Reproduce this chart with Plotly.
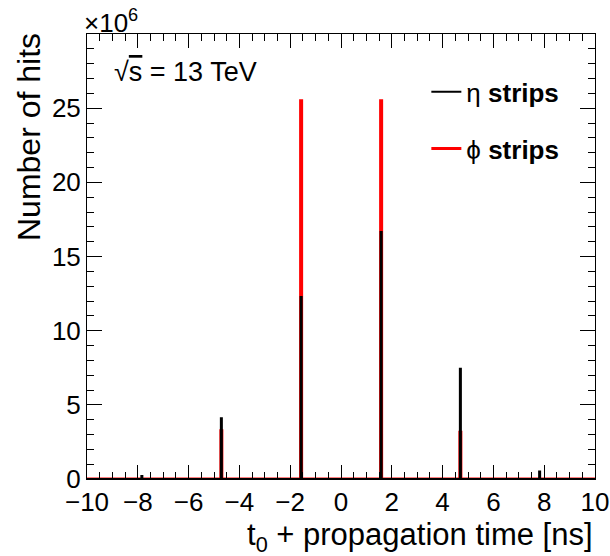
import plotly.graph_objects as go

# Data: bin centers (ns) and contents (x10^6 hits)
bin_centers = [-7.84, -4.71, -1.57, 1.58, 4.70, 7.82]
eta_hits = [0.2, 4.1, 12.27, 16.66, 7.43, 0.5]
phi_hits = [0.0, 3.26, 25.5, 25.5, 3.15, 0.0]
bin_width = 0.04
x_range = [-10, 10]


def step_outline(centers, values, width, lo, hi):
    xs, ys = [lo], [0]
    for c, v in zip(centers, values):
        xs += [c - width / 2, c - width / 2, c + width / 2, c + width / 2]
        ys += [0, v, v, 0]
    xs.append(hi)
    ys.append(0)
    return xs, ys


FONT = "Liberation Sans, Arial, Helvetica, sans-serif"

fig = go.Figure()
px_, py_ = step_outline(bin_centers, phi_hits, bin_width, *x_range)
ex_, ey_ = step_outline(bin_centers, eta_hits, bin_width, *x_range)

fig.add_trace(go.Scatter(x=px_, y=py_, mode="lines", line=dict(color="#ff0000", width=3),
                         name="ϕ <b>strips</b>", legendgroup="phi", legendrank=2))
fig.add_trace(go.Scatter(x=ex_, y=ey_, mode="lines", line=dict(color="black", width=2),
                         name="η <b>strips</b>", legendgroup="eta", legendrank=1))

fig.update_layout(
    width=610, height=556,
    margin=dict(l=87, r=15, t=34, b=77, autoexpand=False),
    paper_bgcolor="white", plot_bgcolor="white",
    font=dict(family=FONT, color="black"),
    showlegend=True,
    legend=dict(x=0.668, y=0.923, xanchor="left", yanchor="top",
                font=dict(size=26, family=FONT), itemwidth=30,
                tracegroupgap=20, bgcolor="rgba(0,0,0,0)", traceorder="grouped"),
    xaxis=dict(range=x_range, showgrid=False, zeroline=False, showline=True,
               automargin=False,
               linecolor="black", linewidth=1, mirror="allticks",
               ticks="inside", ticklen=14, tickcolor="black", tickwidth=1,
               dtick=2, tick0=-10, tickfont=dict(size=26, family=FONT),
               minor=dict(dtick=0.5, ticklen=7, ticks="inside", tickcolor="black")),
    yaxis=dict(range=[0, 30], showgrid=False, zeroline=False, showline=True,
               automargin=False,
               linecolor="black", linewidth=1, mirror="allticks",
               ticks="inside", ticklen=15, tickcolor="black", tickwidth=1,
               tickvals=[0, 5, 10, 15, 20, 25], tickfont=dict(size=26, family=FONT),
               minor=dict(dtick=1, ticklen=7, ticks="inside", tickcolor="black")),
    annotations=[
        dict(text="×10<sup>6</sup>", xref="paper", yref="paper", x=0, y=1.0,
             xanchor="left", yanchor="bottom", showarrow=False,
             font=dict(size=26, family=FONT), xshift=-5, yshift=-6),
        dict(text="√<span style='text-decoration:overline'>s</span> = 13 TeV",
             xref="paper", yref="paper", x=0.05, y=0.915,
             xanchor="left", yanchor="middle", showarrow=False,
             font=dict(size=27, family=FONT)),
        dict(text="t<sub>0</sub> + propagation time [ns]",
             xref="paper", yref="paper", x=1.0, y=0,
             xanchor="right", yanchor="middle", showarrow=False,
             font=dict(size=31, family=FONT), xshift=0, yshift=-58),
        dict(text="Number of hits", textangle=-90,
             xref="paper", yref="paper", x=0, y=1.0,
             xanchor="center", yanchor="top", showarrow=False,
             font=dict(size=32, family=FONT), xshift=-58, yshift=3),
    ],
)

fig.write_html("out.html", config={"displayModeBar": False},
               post_script="document.body.style.margin='0';document.body.style.overflow='hidden';")
